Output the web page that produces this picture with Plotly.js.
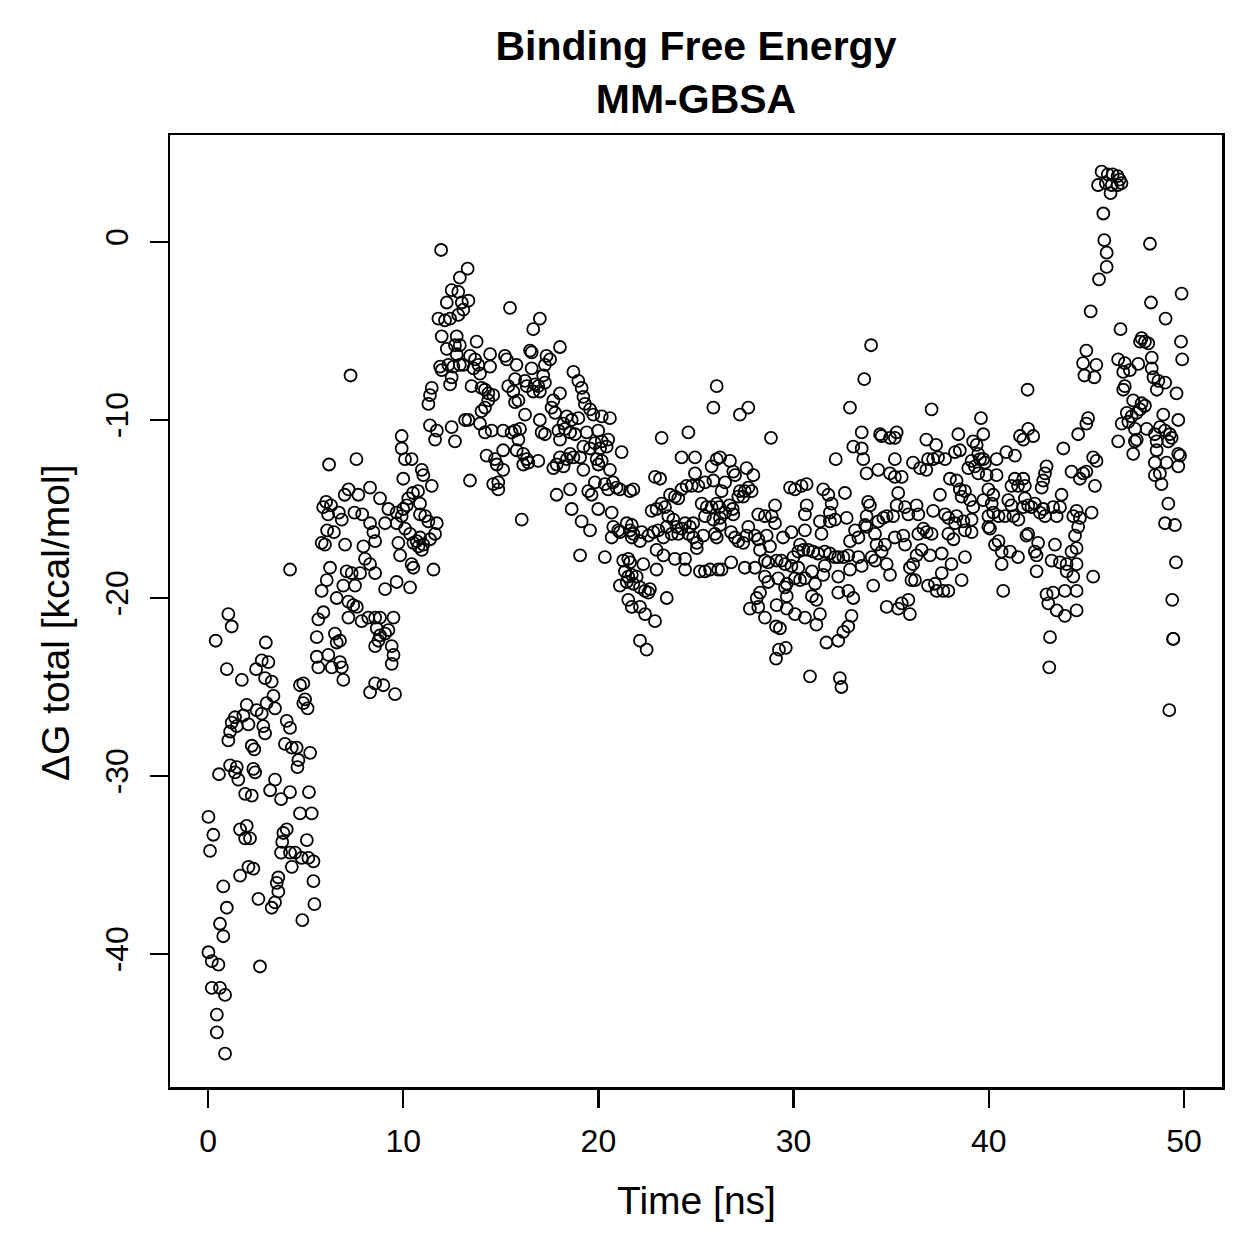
<!DOCTYPE html>
<html><head><meta charset="utf-8">
<script src="https://cdn.plot.ly/plotly-3.0.1.min.js"></script>
<style>html,body{margin:0;padding:0;background:#fff}#chart{width:1259px;height:1259px}</style>
</head><body><div id="chart"></div>
<script>
// Time [ns] and ΔG total [kcal/mol]
const timeNs = [
1.04,1.21,0.39,2.96,2.75,3.09,0.96,2.46,2.92,3.26,
1.73,3.35,1.98,3.0,3.43,2.49,2.75,1.38,1.81,1.21,
1.47,1.13,1.04,2.07,2.83,2.92,4.03,4.2,3.94,4.29,
2.24,2.37,0.56,1.13,1.47,1.38,1.55,2.32,2.41,3.43,
3.18,3.74,1.9,2.24,4.2,0.02,0.27,0.1,1.64,1.98,
1.9,2.15,3.86,4.03,3.8,3.74,4.2,2.07,2.32,1.64,
3.6,3.52,3.6,3.43,3.26,2.58,0.78,0.96,0.61,0.78,
0.02,0.19,0.53,2.66,0.19,0.61,0.87,0.45,0.45,0.87,
5.82,5.99,7.02,7.96,4.2,8.04,8.3,8.56,6.25,
6.08,5.82,7.1,7.36,7.79,6.93,7.53,6.59,7.19,7.44,
7.62,7.19,7.87,8.21,8.56,8.81,5.91,5.65,5.57,6.5,
6.76,6.59,8.56,8.73,5.57,5.65,6.16,6.34,6.76,6.85,
6.93,8.3,8.56,4.71,4.88,4.97,4.88,5.1,4.54,5.23,
4.63,4.58,5.17,4.71,5.31,5.06,4.46,4.29,4.8,5.14,
5.4,5.4,5.45,4.83,
7.3,6.2,7.6,5.9,6.05,6.15,6.3,6.1,6.45,6.7,
6.85,7.0,7.2,7.5,7.7,7.9,
11.94,12.9,12.48,12.82,12.23,13.0,13.08,
11.8,12.14,12.4,12.82,11.97,12.23,12.74,12.65,12.9,12.74,
12.9,12.57,12.31,11.89,11.97,12.48,12.4,11.46,11.37,11.29,
11.37,11.72,11.63,12.48,12.65,13.17,9.92,9.92,10.09,10.43,
10.0,10.95,11.03,11.46,10.76,10.5,10.86,8.3,8.81,9.24,
9.66,10.0,10.26,10.18,9.92,9.07,8.3,8.47,8.56,9.66,
10.09,10.35,10.86,11.12,11.29,11.72,11.63,11.37,10.86,10.69,
10.52,10.78,10.95,11.03,9.75,9.84,9.07,9.66,10.35,10.43,
10.52,11.55,9.5,8.64,8.81,9.07,9.24,9.41,9.5,9.41,
8.98,9.58,
13.3,13.34,15.47,17.0,16.66,13.76,13.42,13.68,13.85,13.6,
13.93,14.45,14.45,13.08,15.21,15.3,15.8,16.5,16.58,16.58,
17.34,17.26,17.52,15.73,16.24,15.38,15.64,15.9,15.73,16.33,
16.75,16.92,17.17,17.26,16.66,17.0,13.5,14.01,14.19,14.36,
14.61,14.36,14.19,14.01,13.34,13.93,14.19,14.53,15.12,15.73,
15.98,16.24,15.55,17.0,17.09,17.26,14.27,14.7,14.79,15.12,
15.12,14.87,14.61,14.87,15.9,15.81,16.15,16.33,16.15,16.41,
16.92,13.42,16.07,
18.03,18.72,18.97,19.14,19.23,19.31,19.57,19.74,20.17,20.59,
18.03,17.69,17.6,17.78,18.38,18.21,18.63,18.97,17.95,18.29,
18.55,18.8,18.03,19.4,19.99,19.82,20.17,20.5,20.42,20.08,
19.57,19.23,19.06,18.55,18.72,18.38,18.03,17.86,18.21,17.69,
21.19,19.23,19.91,20.17,20.0,20.59,19.82,20.33,20.75,20.93,
21.1,20.5,19.65,21.62,17.86,18.55,18.63,19.14,19.57,19.48,
19.99,20.68,20.76,21.02,20.68,21.1,21.45,21.62,21.71,19.06,
20.33,21.27,21.53,21.36,21.53,21.1,21.79,
26.06,25.89,23.24,24.61,24.26,24.95,25.8,26.06,22.9,23.16,
24.95,24.78,24.52,25.12,25.46,25.89,21.79,24.26,23.92,23.67,
24.09,23.24,23.41,22.73,22.98,25.29,25.55,25.8,26.06,25.46,
25.89,23.58,23.84,24.0,24.26,23.5,23.75,24.09,24.44,24.69,
24.86,24.61,24.86,25.04,25.04,25.37,25.97,26.06,23.07,22.82,
22.56,22.22,22.13,21.71,21.79,23.33,22.98,23.33,23.92,24.44,
24.44,25.2,25.46,25.72,26.14,21.62,21.71,21.96,22.3,22.98,
21.45,22.13,22.39,22.64,22.56,21.53,21.71,22.13,22.39,22.9,
23.5,22.13,22.47,
27.25,27.68,28.84,26.23,26.74,26.91,27.0,27.59,27.94,26.49,
26.31,27.25,27.5,27.68,27.85,27.17,27.42,29.82,30.07,30.41,
26.2,26.71,26.88,26.49,26.91,26.23,29.05,30.67,30.58,28.19,
28.53,28.88,29.05,27.68,26.8,27.0,27.17,27.42,27.59,28.02,
28.19,28.62,26.23,29.46,29.89,30.58,28.79,28.28,28.53,28.7,
29.13,29.38,29.56,29.99,30.24,30.33,30.5,30.75,29.89,30.24,
30.58,30.33,30.07,29.65,26.31,26.8,27.5,28.02,28.53,28.7,
29.21,29.56,28.28,28.11,27.76,28.19,29.13,29.65,29.65,30.07,
28.53,30.58,29.1,29.3,29.25,29.1,29.6,
33.97,33.62,32.89,33.49,33.06,33.49,33.57,34.43,34.51,34.94,
35.28,35.19,32.16,33.74,34.34,34.94,35.19,35.19,30.67,31.52,
31.78,32.63,31.95,31.86,31.35,32.12,32.72,33.82,33.91,33.74,
33.66,34.34,34.6,34.77,35.1,35.28,35.36,31.43,31.86,33.15,
33.32,32.89,33.74,34.17,34.25,34.68,35.19,31.0,31.25,31.6,
31.86,32.12,32.29,32.55,32.8,33.32,34.0,34.17,34.51,34.77,
34.94,33.49,32.89,32.29,31.6,31.52,30.94,31.1,30.94,31.17,
31.35,31.17,31.68,32.29,32.55,32.8,32.97,33.06,32.8,32.29,
34.08,34.77,35.36,30.84,32.37,32.45,
37.07,39.6,38.44,39.72,36.8,37.3,38.27,38.52,39.2,39.38,
39.46,39.72,36.12,36.48,36.8,36.89,37.15,37.4,37.76,38.95,
39.12,39.29,39.55,39.8,39.46,39.89,35.54,37.5,38.01,38.35,
38.52,38.78,38.61,39.04,39.2,39.72,39.98,35.71,36.3,35.88,
36.39,37.15,37.76,37.93,38.35,38.27,38.7,39.12,39.98,39.98,
35.62,35.71,36.39,36.65,36.82,37.07,37.93,38.19,38.78,39.12,
37.59,36.99,36.56,36.3,36.12,35.96,36.04,36.22,37.59,38.09,
38.78,38.61,36.89,37.24,37.33,37.67,37.93,35.54,35.88,35.96,
41.99,41.6,42.02,42.28,41.77,43.82,44.58,40.4,40.9,41.34,
44.24,44.67,42.96,42.88,42.79,42.71,40.4,41.34,41.77,41.5,
41.16,41.85,43.73,40.23,40.15,41.0,41.16,41.85,41.77,42.02,
42.19,42.36,42.79,42.62,42.88,43.3,43.65,43.48,44.33,44.5,
40.23,40.5,40.83,40.06,41.26,41.52,42.02,41.93,40.5,40.32,
40.66,41.09,41.5,40.66,42.36,42.45,42.53,43.39,43.22,43.65,
43.99,43.99,44.33,44.24,44.5,42.45,40.74,42.96,43.3,43.05,
43.48,43.9,44.5,43.9,44.5,43.14,43.1,
45.78,46.1,46.35,46.6,46.7,45.6,46.0,46.3,46.6,46.8,
46.24,45.87,45.92,46.04,46.04,45.65,48.26,49.88,48.31,49.06,
45.22,46.75,47.83,48.0,48.17,47.75,49.85,49.91,45.0,44.83,
45.51,44.9,45.41,46.63,46.97,46.89,47.23,47.66,48.35,48.35,
48.44,48.69,49.04,48.61,46.97,46.89,49.62,47.4,47.83,48.0,
47.75,47.58,47.32,47.07,47.15,46.81,48.94,49.71,48.77,49.03,
49.28,49.37,48.51,48.6,48.09,47.49,47.58,46.63,45.09,45.0,
45.35,47.4,48.6,49.71,
47.49,49.2,48.51,49.11,49.8,49.71,48.51,48.77,48.85,45.52,
44.84,45.0,45.44,49.2,49.03,49.54,44.67,45.27,44.58,44.42,
44.5,45.35,49.59,49.4,49.45,49.45,49.25
];
const dGTotal = [
-20.9,-21.6,-22.4,-22.5,-23.5,-23.6,-24.0,-24.0,-24.5,-24.7,
-24.6,-25.5,-26.0,-25.9,-26.2,-26.3,-26.5,-26.7,-26.6,-27.0,
-27.2,-27.5,-28.0,-27.1,-27.2,-27.6,-26.9,-27.3,-28.2,-28.4,
-28.3,-28.5,-29.9,-29.4,-29.5,-29.8,-30.2,-29.6,-29.8,-30.2,
-30.8,-31.3,-31.0,-31.1,-30.9,-32.3,-33.3,-34.2,-33.0,-32.8,
-33.5,-33.5,-33.2,-33.0,-33.7,-34.3,-34.3,-35.1,-35.2,-35.6,
-35.7,-36.0,-36.5,-37.1,-37.4,-36.9,-36.2,-37.4,-38.3,-39.0,
-39.9,-40.4,-40.6,-40.7,-41.9,-41.9,-42.3,-43.4,-44.4,-45.6,
-16.9,-17.0,-17.0,-17.1,-18.4,-17.8,-18.1,-18.6,-18.3,
-19.0,-19.6,-18.5,-18.6,-18.6,-19.3,-19.3,-20.0,-20.2,-20.4,
-20.5,-21.1,-21.3,-21.1,-21.1,-21.1,-20.8,-21.2,-22.2,-22.0,
-22.4,-22.5,-22.7,-22.4,-23.3,-23.9,-23.2,-23.9,-23.6,-23.9,
-24.6,-25.3,-24.8,-24.9,-24.8,-25.7,-25.9,-26.2,-28.4,-28.7,
-29.1,-29.5,-30.9,-32.1,-32.1,-33.6,-34.3,-35.1,-34.6,-34.6,
-34.8,-35.9,-37.2,-38.1,
-7.5,-12.5,-12.2,-14.9,-14.6,-15.3,-14.8,-16.2,-16.3,-15.2,
-15.6,-14.2,-13.9,-15.2,-14.2,-15.3,
-0.45,-2.0,-2.7,-2.8,-3.4,-3.4,-3.8,
-4.3,-4.4,-4.3,-4.1,-5.3,-6.0,-5.3,-5.8,-5.8,-6.3,
-6.9,-7.0,-6.9,-7.0,-7.2,-7.6,-8.0,-8.2,-8.6,-9.1,
-10.3,-10.6,-11.1,-10.4,-11.2,-10.0,-10.9,-11.6,-12.2,-12.2,
-13.3,-12.8,-13.1,-13.7,-14.0,-14.1,-14.7,-13.8,-14.4,-15.0,
-15.2,-15.0,-14.4,-14.8,-15.4,-15.8,-15.8,-16.3,-16.8,-15.8,
-16.1,-16.4,-15.3,-15.4,-15.7,-15.8,-16.4,-16.7,-16.6,-16.8,
-16.9,-17.1,-17.3,-17.0,-16.9,-17.6,-19.5,-19.1,-19.4,-18.1,
-18.3,-18.4,-21.1,-21.7,-22.1,-22.0,-21.8,-22.7,-23.2,-23.7,
-24.9,-25.4,
-1.5,-3.3,-3.7,-4.3,-4.9,-5.6,-6.4,-6.6,-6.9,-7.1,
-7.4,-6.3,-7.0,-6.9,-6.4,-6.6,-6.9,-6.1,-6.2,-7.1,
-6.4,-6.9,-6.6,-7.7,-7.8,-8.1,-8.4,-8.9,-9.0,-8.1,
-8.0,-8.1,-7.5,-7.9,-8.4,-8.4,-8.1,-8.2,-8.3,-8.5,
-8.6,-8.9,-9.3,-9.5,-10.0,-10.2,-10.7,-10.6,-10.6,-10.6,
-10.5,-9.7,-10.7,-10.0,-10.7,-10.8,-12.0,-12.2,-12.5,-11.7,
-12.8,-13.5,-13.6,-13.9,-11.1,-11.7,-11.9,-12.2,-12.5,-12.4,
-12.3,-13.4,-15.6,
-5.9,-7.3,-7.8,-8.2,-8.7,-9.1,-9.4,-9.7,-9.8,-9.9,
-8.5,-8.9,-9.3,-9.6,-9.8,-10.2,-10.0,-9.9,-10.6,-10.5,
-10.7,-10.8,-11.1,-10.7,-10.6,-11.3,-11.2,-11.1,-11.5,-11.6,
-11.6,-11.5,-12.1,-11.9,-12.1,-12.2,-12.1,-12.5,-12.6,-12.7,
-11.8,-12.8,-12.2,-12.3,-12.5,-12.8,-13.5,-13.6,-13.5,-13.8,
-13.9,-13.9,-14.2,-14.0,-14.2,-13.9,-15.0,-15.7,-16.2,-14.0,
-15.0,-15.2,-16.0,-16.2,-16.6,-16.3,-15.8,-16.2,-16.6,-17.6,
-17.7,-17.9,-17.8,-18.5,-18.8,-19.3,-19.2,
-8.1,-9.3,-11.0,-10.7,-12.1,-12.1,-12.6,-12.2,-13.2,-13.3,
-13.0,-13.7,-13.7,-13.7,-13.5,-13.4,-13.9,-13.9,-14.3,-14.2,
-14.4,-14.7,-14.9,-15.1,-15.0,-14.7,-14.9,-14.9,-14.7,-15.4,
-15.6,-15.4,-15.6,-16.0,-16.1,-16.0,-16.4,-16.4,-15.8,-16.0,
-15.8,-16.4,-16.6,-16.9,-17.2,-16.5,-16.4,-16.6,-16.2,-16.3,
-16.5,-16.3,-16.8,-15.9,-16.4,-16.6,-17.3,-17.6,-17.8,-17.8,
-18.4,-18.5,-18.5,-18.4,-18.4,-18.0,-18.7,-18.8,-18.1,-18.4,
-19.1,-19.4,-19.6,-19.5,-19.7,-20.1,-20.5,-20.5,-20.9,-21.3,
-20.0,-22.4,-22.9,
-9.7,-9.3,-11.0,-12.1,-12.3,-12.9,-13.1,-12.7,-13.1,-13.5,
-14.0,-14.0,-14.0,-13.8,-14.0,-14.3,-14.3,-13.8,-13.9,-13.7,
-14.9,-14.8,-15.0,-15.2,-15.3,-15.5,-14.8,-14.8,-15.3,-15.3,
-15.4,-15.4,-15.8,-16.0,-16.3,-16.6,-16.8,-16.9,-16.5,-16.5,
-16.7,-16.5,-15.9,-16.6,-16.3,-16.2,-17.1,-17.3,-17.9,-18.0,
-17.9,-17.9,-18.1,-17.7,-17.4,-17.0,-17.3,-17.3,-18.2,-18.3,
-18.9,-19.0,-18.9,-19.2,-18.4,-18.0,-18.3,-18.3,-18.8,-19.1,
-18.9,-19.4,-19.7,-20.0,-20.6,-20.5,-20.4,-19.9,-20.6,-20.9,
-21.1,-21.1,-21.6,-21.7,-22.9,-23.4,-22.8,
-5.8,-7.7,-9.3,-10.7,-11.5,-11.6,-12.2,-10.8,-10.9,-11.0,
-10.7,-11.0,-12.2,-13.0,-12.8,-13.0,-13.2,-12.2,-13.6,-13.9,
-14.2,-14.1,-14.7,-15.2,-15.7,-15.6,-15.5,-14.6,-14.8,-15.4,
-15.9,-15.7,-15.5,-15.4,-15.4,-14.8,-14.1,-16.4,-15.7,-16.2,
-16.6,-16.8,-16.0,-16.4,-17.0,-17.0,-16.6,-17.4,-17.5,-17.4,
-17.5,-17.7,-17.7,-17.7,-17.6,-17.7,-17.7,-17.9,-17.4,-18.1,
-18.7,-18.2,-18.4,-18.8,-18.2,-18.7,-18.5,-19.2,-19.9,-20.1,
-20.9,-21.5,-22.5,-22.4,-21.9,-21.6,-21.0,-20.0,-19.6,-19.7,
-19.3,-20.5,-20.6,-24.4,-24.5,-25.0,
-9.4,-9.9,-10.8,-10.8,-11.1,-11.4,-11.8,-11.7,-11.2,-11.4,
-11.9,-12.2,-12.4,-12.7,-12.8,-12.2,-12.2,-12.1,-12.2,-12.7,
-12.3,-12.6,-12.2,-12.4,-13.0,-13.1,-13.2,-14.2,-13.3,-13.4,
-13.9,-14.0,-14.3,-14.5,-14.9,-14.5,-13.9,-14.9,-14.8,-15.3,
-15.3,-15.1,-15.3,-15.5,-15.4,-15.8,-15.7,-15.6,-15.4,-16.0,
-16.5,-17.0,-16.4,-16.1,-16.3,-16.4,-16.4,-16.7,-16.2,-16.3,
-17.5,-17.6,-17.3,-17.6,-18.1,-18.3,-19.0,-19.0,-18.6,-18.1,
-17.7,-19.0,-19.3,-19.2,-19.6,-19.6,-19.6,-20.3,-20.1,-20.9,
-8.3,-10.9,-10.5,-10.9,-11.1,-11.6,-10.8,-12.2,-11.8,-12.0,
-12.9,-13.3,-12.6,-13.0,-13.4,-13.8,-13.1,-13.3,-13.3,-13.7,
-13.7,-13.7,-14.2,-14.2,-14.7,-14.5,-14.8,-14.4,-14.9,-14.8,
-14.9,-14.7,-15.0,-15.2,-15.4,-14.9,-14.9,-15.4,-15.4,-15.1,
-15.2,-15.4,-15.4,-16.1,-15.4,-15.6,-16.4,-16.5,-16.8,-17.0,
-17.4,-17.4,-17.7,-18.1,-17.4,-17.6,-16.9,-17.0,-17.9,-18.0,
-18.1,-18.5,-18.8,-17.4,-18.1,-18.5,-19.6,-19.8,-19.7,-20.3,
-20.7,-21.0,-20.7,-19.6,-19.6,-22.2,-23.9,
3.95,3.8,3.8,3.7,3.5,3.2,3.3,3.2,3.2,3.3,
2.75,1.6,0.1,-0.6,-1.4,-2.1,-0.1,-2.9,-3.4,-4.3,
-3.9,-4.9,-5.4,-5.6,-5.7,-5.6,-5.6,-6.6,-6.1,-6.8,
-6.9,-7.5,-7.6,-6.6,-6.8,-7.3,-7.2,-6.85,-6.5,-7.1,
-7.6,-7.8,-7.9,-8.3,-8.1,-8.3,-8.5,-8.9,-9.06,-9.2,
-9.4,-9.6,-9.8,-9.6,-10.1,-10.2,-9.7,-10.0,-10.4,-10.6,
-10.8,-11.0,-10.8,-11.2,-10.5,-10.5,-11.1,-11.2,-9.9,-10.2,
-12.1,-11.9,-11.7,-11.9,
-11.2,-11.2,-12.4,-12.4,-12.0,-12.6,-13.1,-13.0,-13.6,-12.3,
-13.0,-12.9,-13.7,-14.7,-15.8,-15.9,-15.5,-15.2,-16.0,-16.5,
-17.2,-18.8,-18.0,-20.1,-22.3,-22.3,-26.3
];
const xTickVals = [0, 10, 20, 30, 40, 50];
const xTickText = ["0", "10", "20", "30", "40", "50"];
const yTickVals = [0, -10, -20, -30, -40];
const yTickText = ["0", "-10", "-20", "-30", "-40"];
const chartTitle = "Binding Free Energy";
const chartSubtitle = "MM-GBSA";
const xLabel = "Time [ns]";
const yLabel = "ΔG total [kcal/mol]";

const FONT = "Liberation Sans, Arial, Helvetica, sans-serif";

const trace = {
  type: "scatter",
  mode: "markers",
  x: timeNs,
  y: dGTotal,
  marker: {symbol: "circle-open", size: 12, color: "#000", line: {color: "#000", width: 1.8}},
  hoverinfo: "skip"
};

const axisCommon = {
  showgrid: false, zeroline: false,
  showline: true, mirror: true, linecolor: "#000", linewidth: 2.5,
  ticks: "outside", ticklen: 18, tickwidth: 2.5, tickcolor: "#000",
  tickfont: {family: FONT, size: 32, color: "#000"},
  tickmode: "array"
};

const layout = {
  width: 1259, height: 1259,
  paper_bgcolor: "#fff", plot_bgcolor: "#fff",
  margin: {l: 170, r: 37, t: 135, b: 172},
  showlegend: false,
  font: {family: FONT, color: "#000"},
  title: {
    text: "<b>" + chartTitle + "</b><br><b>" + chartSubtitle + "</b>",
    font: {family: FONT, size: 41, color: "#000"},
    xref: "paper", x: 0.5, xanchor: "center",
    yref: "container", y: 1 - 60 / 1259, yanchor: "top"
  },
  xaxis: Object.assign({}, axisCommon, {
    range: [-1.95, 51.95], tickvals: xTickVals, ticktext: xTickText,
    ticklabelstandoff: 6
  }),
  yaxis: Object.assign({}, axisCommon, {
    range: [-47.47, 6.01], tickvals: yTickVals, ticktext: yTickText,
    tickangle: -90, ticklabelstandoff: 9
  }),
  annotations: [
    {text: xLabel, xref: "paper", yref: "paper", x: 0.5, y: 0, xanchor: "center", yanchor: "middle",
     yshift: -113, showarrow: false, font: {family: FONT, size: 39, color: "#000"}},
    {text: yLabel, xref: "paper", yref: "paper", x: 0, y: 0.5, xanchor: "center", yanchor: "middle",
     xshift: -115, yshift: -12, textangle: -90, showarrow: false, font: {family: FONT, size: 39, color: "#000"}}
  ]
};

Plotly.newPlot("chart", [trace], layout, {staticPlot: true, displayModeBar: false});
</script>
</body></html>
